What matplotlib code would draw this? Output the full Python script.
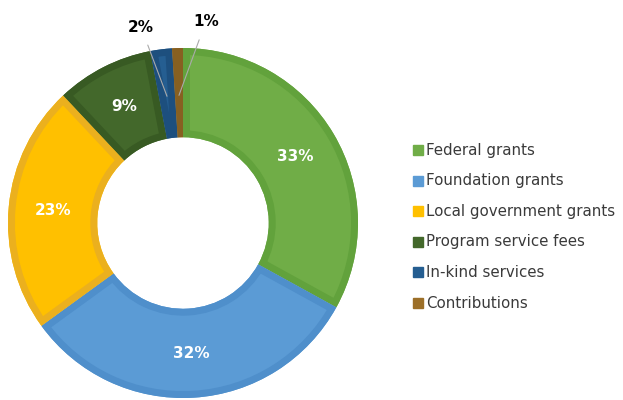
import numpy as np
import matplotlib.pyplot as plt
from matplotlib.patches import Wedge

# funding sources
labels = ['Federal grants', 'Foundation grants', 'Local government grants',
          'Program service fees', 'In-kind services', 'Contributions']
shares = [33, 32, 23, 9, 2, 1]
colors = ['#70AD47', '#5B9BD5', '#FFC000', '#43682B', '#255E91', '#9C6F28']
edges = ['#62A23C', '#4F8FCB', '#EBB01E', '#385A23', '#1D4F7E', '#876021']

plt.rcParams['font.family'] = ['DejaVu Sans']

fig = plt.figure(figsize=(6.23, 4.0), dpi=100)
ax = fig.add_axes([8 / 623, 2 / 400, 350 / 623, 350 / 400])

wedges, _ = ax.pie(shares, colors=colors, startangle=90, counterclock=False,
                   radius=1.0,
                   wedgeprops=dict(width=0.51, linewidth=0))
# darker inset border on each wedge, clipped to the wedge itself
for w, ec in zip(wedges, edges):
    border = Wedge(w.center, w.r, w.theta1, w.theta2, width=w.width,
                   facecolor='none', edgecolor=ec, linewidth=10)
    border.set_joinstyle('miter')
    ax.add_patch(border)
    border.set_clip_path(w)
ax.set_aspect('equal')
ax.set_xlim(-1.0, 1.0)
ax.set_ylim(-1.0, 1.0)
ax.axis('off')

rmid = 0.745
for i, w in enumerate(wedges):
    mid = np.deg2rad((w.theta1 + w.theta2) / 2)
    x, y = rmid * np.cos(mid), rmid * np.sin(mid)
    if shares[i] >= 5:
        ax.text(x, y, '%d%%' % shares[i], ha='center', va='center',
                color='white', fontsize=11, fontweight='bold')

# small slices get labels outside with leader lines
outside = {4: (-0.24, 1.12), 5: (0.13, 1.15)}
for i, (tx, ty) in outside.items():
    w = wedges[i]
    mid = np.deg2rad((w.theta1 + w.theta2) / 2)
    px, py = 0.73 * np.cos(mid), 0.73 * np.sin(mid)
    ax.annotate('%d%%' % shares[i], xy=(px, py), xytext=(tx, ty),
                ha='center', va='center', fontsize=11, fontweight='bold',
                color='black', annotation_clip=False,
                arrowprops=dict(arrowstyle='-', color='#AAAAAA', lw=0.8,
                                shrinkA=6, shrinkB=0))

# legend
lax = fig.add_axes([0, 0, 1, 1])
lax.set_xlim(0, 623)
lax.set_ylim(400, 0)
lax.axis('off')
for i, lab in enumerate(labels):
    yy = 150 + i * 30.6
    lax.add_patch(plt.Rectangle((413, yy - 5), 10, 10, color=colors[i]))
    lax.text(426, yy, lab, ha='left', va='center', fontsize=10.8,
             color='#3A3A3A')

fig.savefig('out.png', dpi=100)
